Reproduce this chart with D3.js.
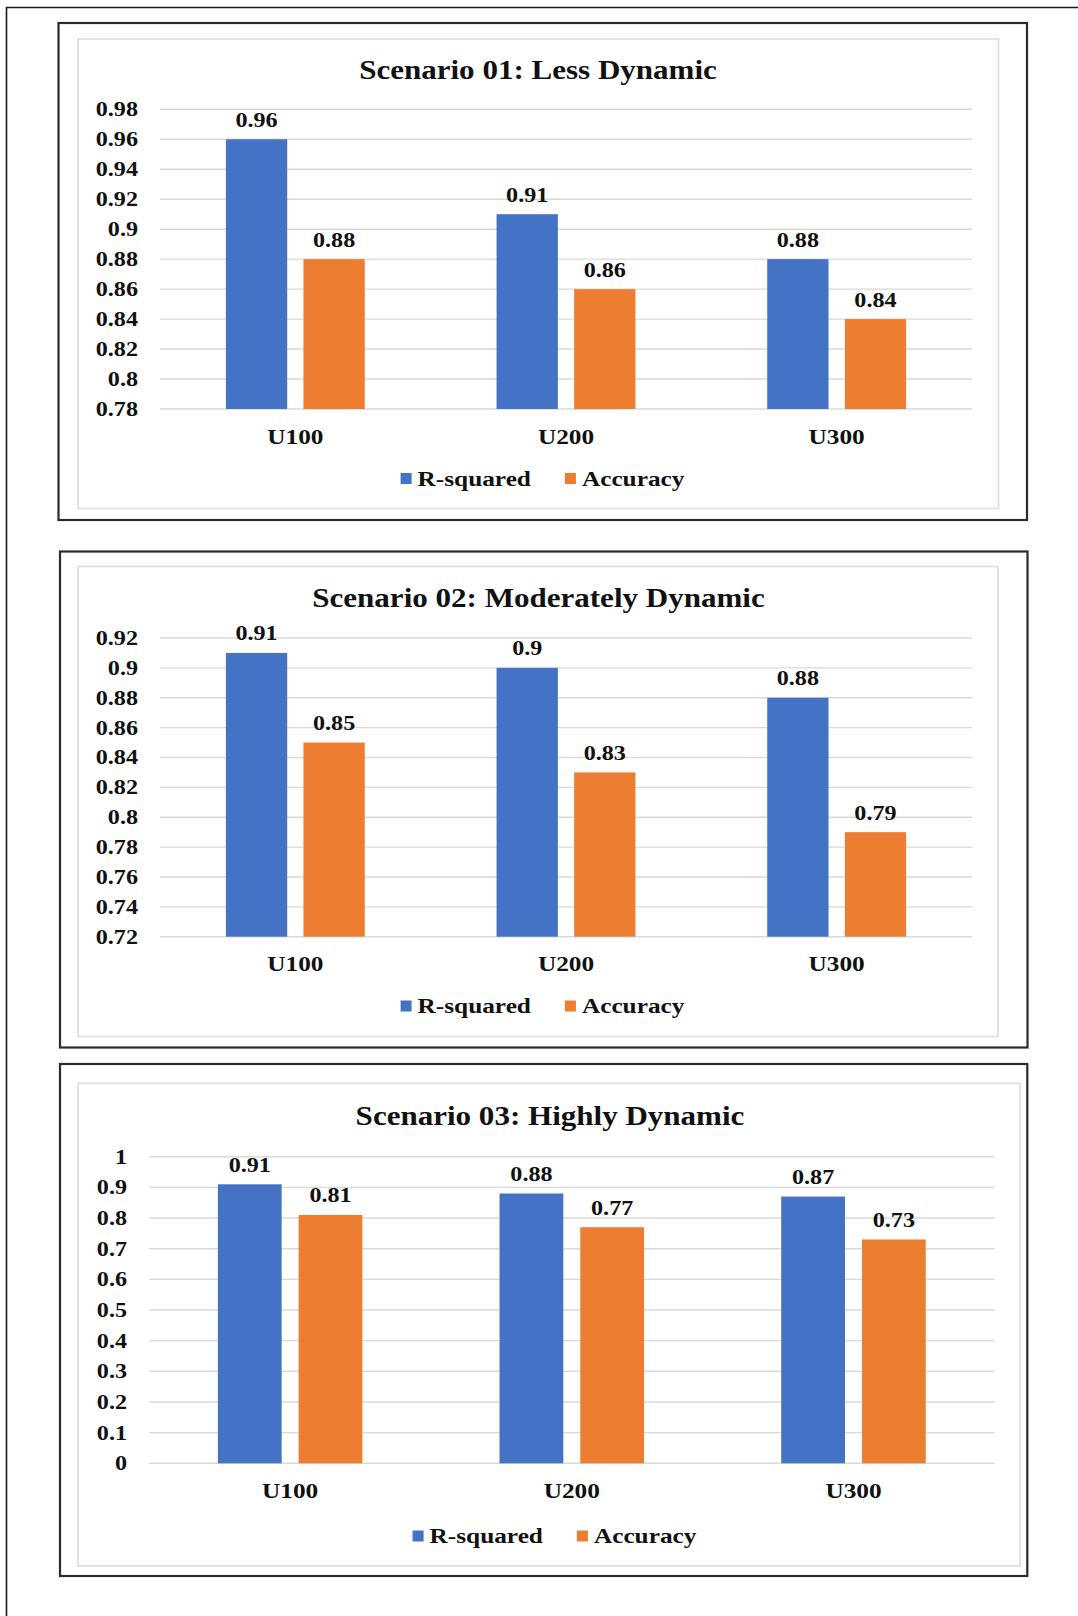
<!DOCTYPE html>
<html>
<head>
<meta charset="utf-8">
<script src="https://cdn.jsdelivr.net/npm/d3@7"></script>
<style>
  html, body { margin: 0; padding: 0; background: #fff; }
  svg { display: block; }
  text { font-family: "Liberation Serif", "Times New Roman", serif; font-weight: bold; fill: #111; }
</style>
</head>
<body>
<svg id="chart" width="1078" height="1616"></svg>
<script>
// ---- data ----
const scenarioTitles = [
  "Scenario 01: Less Dynamic",
  "Scenario 02: Moderately Dynamic",
  "Scenario 03: Highly Dynamic"
];
const categories = ["U100", "U200", "U300"];
const seriesNames = ["R-squared", "Accuracy"];
const rSquared = [
  [0.96, 0.91, 0.88],
  [0.91, 0.90, 0.88],
  [0.91, 0.88, 0.87]
];
const accuracy = [
  [0.88, 0.86, 0.84],
  [0.85, 0.83, 0.79],
  [0.81, 0.77, 0.73]
];
const yDomains = [
  [0.78, 0.98],
  [0.72, 0.92],
  [0, 1]
];

// ---- appearance ----
const colors = { "R-squared": "#4472C4", "Accuracy": "#ED7D31" };
const SX = 1.15; // horizontal stretch applied to all text

// panel frames and plot areas
const layout = [
  { outer: [58.5, 23, 1027, 520], inner: [78, 39, 998.5, 508.5],
    plotX: [160, 972], plotY: [109.3, 409], tickRight: 138,
    titleX: 538, titleY: 79, catY: 443.5, legendY: 485.5, legendCx: 542.5 },
  { outer: [60, 551.5, 1027.5, 1047.5], inner: [78, 566.5, 998, 1036.5],
    plotX: [160, 972], plotY: [638, 936.7], tickRight: 138,
    titleX: 538.5, titleY: 607, catY: 971, legendY: 1013, legendCx: 542.5 },
  { outer: [60, 1064, 1027.3, 1576], inner: [78, 1083.3, 1020, 1566],
    plotX: [149.3, 994.3], plotY: [1156.7, 1463.3], tickRight: 127,
    titleX: 550, titleY: 1125, catY: 1498, legendY: 1543, legendCx: 554.5 }
];

const svg = d3.select("#chart");
const fmt = d3.format("~f");

function placeText(sel, x, y) {
  return sel.attr("transform", `translate(${x},${y}) scale(${SX},1)`);
}

// page frame (top and left rules)
svg.append("path")
  .attr("d", "M6.5,1616 L6.5,7.5 L1078,7.5")
  .attr("fill", "none").attr("stroke", "#1a1a1a").attr("stroke-width", 1.6);

layout.forEach((L, i) => {
  const g = svg.append("g");

  // outer panel border
  g.append("rect")
    .attr("x", L.outer[0]).attr("y", L.outer[1])
    .attr("width", L.outer[2] - L.outer[0]).attr("height", L.outer[3] - L.outer[1])
    .attr("fill", "#fff").attr("stroke", "#2a2a2a").attr("stroke-width", 2.2);

  // chart area border
  g.append("rect")
    .attr("x", L.inner[0]).attr("y", L.inner[1])
    .attr("width", L.inner[2] - L.inner[0]).attr("height", L.inner[3] - L.inner[1])
    .attr("fill", "#fff").attr("stroke", "#e0e0e0").attr("stroke-width", 1.8);

  // scales
  const y = d3.scaleLinear().domain(yDomains[i]).range([L.plotY[1], L.plotY[0]]);
  const x0 = d3.scaleBand().domain(categories).range(L.plotX)
    .paddingInner(0.487).paddingOuter(0.2435);
  const x1 = d3.scaleBand().domain(seriesNames).range([0, x0.bandwidth()])
    .paddingInner(0.21).paddingOuter(0);

  // gridlines
  const ticks = y.ticks(10);
  g.append("g").selectAll("line").data(ticks).join("line")
    .attr("x1", L.plotX[0]).attr("x2", L.plotX[1])
    .attr("y1", d => y(d)).attr("y2", d => y(d))
    .attr("stroke", "#d9d9d9").attr("stroke-width", 1.4);

  // y tick labels
  g.append("g").selectAll("text").data(ticks).join("text")
    .each(function (d) { placeText(d3.select(this), L.tickRight, y(d) + 7); })
    .attr("text-anchor", "end")
    .attr("font-size", 21)
    .text(d => fmt(d));

  // bars
  const rows = categories.map((c, k) => ({
    cat: c,
    vals: [
      { s: "R-squared", v: rSquared[i][k] },
      { s: "Accuracy", v: accuracy[i][k] }
    ]
  }));
  const grp = g.append("g").selectAll("g").data(rows).join("g")
    .attr("transform", d => `translate(${x0(d.cat)},0)`);
  grp.selectAll("rect").data(d => d.vals).join("rect")
    .attr("x", d => x1(d.s))
    .attr("width", x1.bandwidth())
    .attr("y", d => y(d.v))
    .attr("height", d => y(yDomains[i][0]) - y(d.v))
    .attr("fill", d => colors[d.s]);

  // value labels
  grp.selectAll("text").data(d => d.vals).join("text")
    .each(function (d) {
      placeText(d3.select(this), x1(d.s) + x1.bandwidth() / 2, y(d.v) - 12.5);
    })
    .attr("text-anchor", "middle")
    .attr("font-size", 21)
    .text(d => fmt(d.v));

  // category labels
  g.append("g").selectAll("text").data(categories).join("text")
    .each(function (d) { placeText(d3.select(this), x0(d) + x0.bandwidth() / 2, L.catY); })
    .attr("text-anchor", "middle")
    .attr("font-size", 22)
    .text(d => d);

  // title
  placeText(g.append("text"), L.titleX, L.titleY)
    .attr("text-anchor", "middle")
    .attr("font-size", 27)
    .text(scenarioTitles[i]);

  // legend
  const lg = g.append("g");
  const items = lg.selectAll("g").data(seriesNames).join("g");
  items.append("rect")
    .attr("width", 11).attr("height", 11)
    .attr("y", -12.5)
    .attr("fill", d => colors[d]);
  items.append("text")
    .each(function () { placeText(d3.select(this), 17, 0); })
    .attr("font-size", 22)
    .text(d => d);
  let cursor = 0;
  const offsets = [];
  items.each(function () {
    const w = 17 + this.querySelector("text").getComputedTextLength() * SX;
    offsets.push(cursor);
    cursor += w + 34;
  });
  const total = cursor - 34;
  items.attr("transform", (d, k) =>
    `translate(${L.legendCx - total / 2 + offsets[k]},${L.legendY})`);
});
</script>
</body>
</html>
